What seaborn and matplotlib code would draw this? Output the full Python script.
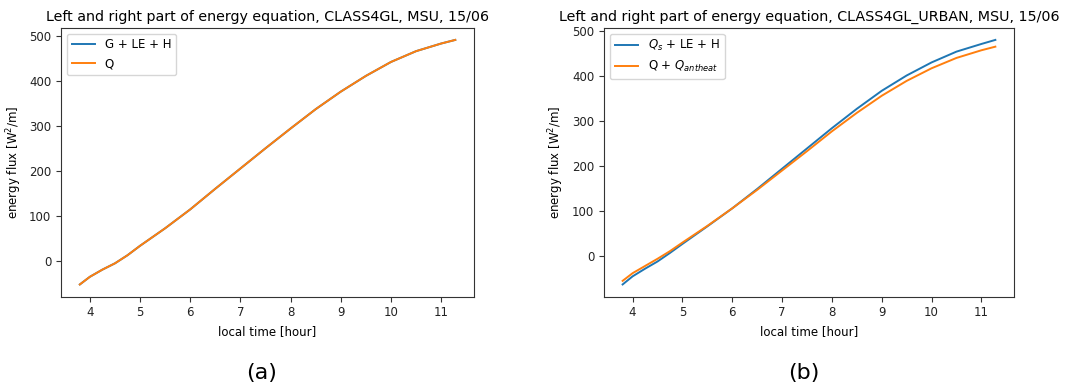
import matplotlib
matplotlib.use("Agg")
import matplotlib.pyplot as plt
import seaborn as sns
import pandas as pd

# ---- data ----
hours = [3.8, 4.0, 4.25, 4.5, 4.75, 5.0, 5.5, 6.0, 6.5, 7.0, 7.5, 8.0, 8.5, 9.0, 9.5, 10.0, 10.5, 11.0, 11.28]

# panel (a): CLASS4GL
left_glh = [-53, -36, -20, -6, 12, 33, 72, 114, 160, 205, 250, 294, 337, 376, 411, 442, 466, 483, 491]
left_q = [-53, -36, -20, -6, 12, 33, 72, 114, 160, 205, 250, 294, 337, 376, 411, 442, 466, 483, 491]

# panel (b): CLASS4GL_URBAN
right_qs = [-63, -45, -28, -12, 7, 27, 66, 106, 149, 194, 239, 284, 327, 367, 401, 430, 454, 471, 480]
right_q_anth = [-55, -38, -22, -6, 11, 30, 67, 106, 147, 190, 233, 277, 318, 356, 389, 417, 440, 457, 465]

left_labels = ["G + LE + H", "Q"]
right_labels = ["$Q_s$ + LE + H", "Q + $Q_{antheat}$"]
titles = ["Left and right part of energy equation, CLASS4GL, MSU, 15/06",
          "Left and right part of energy equation, CLASS4GL_URBAN, MSU, 15/06"]
captions = ["(a)", "(b)"]
xlabel = "local time [hour]"
ylabel = "energy flux [W$^2$/m]"

colors = ["#1f77b4", "#ff7f0e"]

fig = plt.figure(figsize=(10.73, 3.85), dpi=100)
ax1 = fig.add_axes([0.0569, 0.2294, 0.3849, 0.6987])
ax2 = fig.add_axes([0.5629, 0.2294, 0.3821, 0.6987])


def make_df(a, b, labels):
    return pd.DataFrame({
        "hour": hours + hours,
        "flux": a + b,
        "series": [labels[0]] * len(hours) + [labels[1]] * len(hours),
    })


for ax, (a, b), labels, title in [
    (ax1, (left_glh, left_q), left_labels, titles[0]),
    (ax2, (right_qs, right_q_anth), right_labels, titles[1]),
]:
    df = make_df(a, b, labels)
    sns.lineplot(data=df, x="hour", y="flux", hue="series", palette=colors,
                 hue_order=labels, ax=ax, linewidth=1.4, estimator=None, sort=False)
    ax.set_title(title, fontsize=10.3, pad=5)
    ax.set_xlabel(xlabel, fontsize=8.5)
    ax.set_ylabel(ylabel, fontsize=8.5)
    ax.tick_params(labelsize=8.5, colors="#333333", labelcolor="#222222")
    ax.set_xticks([4, 5, 6, 7, 8, 9, 10, 11])
    ax.set_yticks([0, 100, 200, 300, 400, 500])
    for s in ax.spines.values():
        s.set_color("#333333")
    h, l = ax.get_legend_handles_labels()
    ax.legend(h, l, loc="upper left", fontsize=8.5)

fig.text(262 / 1073, 1 - 373 / 385, captions[0], fontsize=16, ha="center", va="center")
fig.text(804 / 1073, 1 - 373 / 385, captions[1], fontsize=16, ha="center", va="center")

fig.savefig("out.png", dpi=100)
